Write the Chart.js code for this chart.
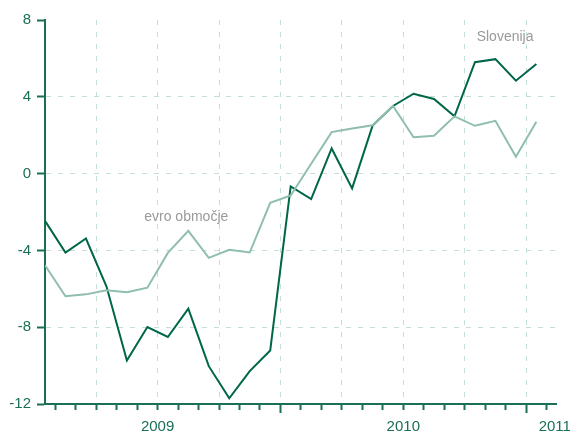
<!DOCTYPE html>
<html><head><meta charset="utf-8">
<script src="https://cdn.jsdelivr.net/npm/chart.js@4/dist/chart.umd.min.js"></script>
<style>html,body{margin:0;padding:0;background:#fff}#wrap{width:576px;height:436px;position:relative}</style>
</head><body><div id="wrap"><canvas id="c" width="576" height="436"></canvas></div>
<script>
// ---- data ----
const months = ['2009-01','2009-02','2009-03','2009-04','2009-05','2009-06','2009-07','2009-08','2009-09','2009-10','2009-11','2009-12',
                '2010-01','2010-02','2010-03','2010-04','2010-05','2010-06','2010-07','2010-08','2010-09','2010-10','2010-11','2010-12','2011-01'];
const slovenija = [-2.46,-4.11,-3.38,-5.87,-9.73,-7.99,-8.51,-7.03,-10.03,-11.70,-10.29,-9.21,
                   -0.67,-1.33,1.31,-0.77,2.50,3.52,4.16,3.89,2.98,5.80,5.96,4.84,5.71];
const evroObmocje = [-4.77,-6.39,-6.29,-6.08,-6.18,-5.94,-4.13,-2.98,-4.39,-3.97,-4.11,-1.52,
                     -1.14,0.51,2.16,2.35,2.52,3.52,1.89,1.97,2.98,2.49,2.75,0.88,2.70];
const yTicks = [-12,-8,-4,0,4,8];
const years = ['2009','2010','2011'];
const seriesNames = ['Slovenija','evro območje'];

// ---- styling ----
const GREEN = '#1b6f57';
const DARK = '#00664a';
const LIGHT = '#8fbfac';
const GRID = '#c6dfd5';
const NOTE = '#9a9a9a';
Chart.defaults.font.family = '"Liberation Sans", Arial, sans-serif';

// month boundaries between consecutive points (index - 0.5)
const boundaries = months.map((m, i) => i + 0.5);
const yearCentre = {5.5: years[0], 17.5: years[1]};
const lastYearPos = 24.9;

const notes = {
  id: 'notes',
  afterDatasetsDraw(chart, args, opts) {
    const {ctx, scales: {x, y}} = chart;
    ctx.save();
    ctx.font = '14px "Liberation Sans", Arial, sans-serif';
    ctx.fillStyle = NOTE;
    ctx.textAlign = 'center';
    ctx.textBaseline = 'middle';
    opts.items.forEach(it => ctx.fillText(it.text, x.getPixelForValue(it.x), y.getPixelForValue(it.y)));
    ctx.restore();
  }
};

new Chart(document.getElementById('c'), {
  type: 'line',
  data: {
    datasets: [
      {label: seriesNames[1], data: evroObmocje.map((v, i) => ({x: i, y: v})), borderColor: LIGHT, borderWidth: 2, pointRadius: 0, tension: 0},
      {label: seriesNames[0], data: slovenija.map((v, i) => ({x: i, y: v})), borderColor: DARK, borderWidth: 2, pointRadius: 0, tension: 0}
    ]
  },
  options: {
    responsive: false,
    animation: false,
    devicePixelRatio: 1,
    layout: {padding: {top: 20, right: 18, left: 0, bottom: 0}},
    plugins: {
      legend: {display: false},
      tooltip: {enabled: false},
      notes: {items: [{text: seriesNames[1], x: 6.9, y: -2.25}, {text: seriesNames[0], x: 22.47, y: 7.12}]}
    },
    scales: {
      x: {
        type: 'linear', min: 0, max: months.length,
        afterBuildTicks(scale) {
          scale.ticks = boundaries.map(v => ({value: v})).concat([{value: lastYearPos}]);
        },
        afterFit(scale) { scale.height = 32; },
        ticks: {
          autoSkip: false, maxRotation: 0, padding: 5,
          color: GREEN, font: {size: 15},
          callback(v) { return v === lastYearPos ? years[2] : (yearCentre[v] || ''); }
        },
        grid: {
          lineWidth: 1,
          color: ctx => (ctx.tick && ctx.tick.value !== lastYearPos && ((ctx.tick.value + 0.5) % 3 === 0)) ? GRID : 'rgba(0,0,0,0)',
          tickColor: ctx => (ctx.tick && ctx.tick.value === lastYearPos) ? 'rgba(0,0,0,0)' : GREEN,
          tickLength: 9,
          tickWidth: 2,
          tickBorderDash: ctx => (ctx.tick && (ctx.tick.value === 11.5 || ctx.tick.value === 23.5)) ? [] : [5, 30]
        },
        border: {color: GREEN, width: 2, dash: [5, 7]}
      },
      y: {
        type: 'linear', min: -12, max: 8,
        afterBuildTicks(scale) { scale.ticks = yTicks.map(v => ({value: v})); },
        afterFit(scale) { scale.width = 45; },
        ticks: {color: GREEN, font: {size: 15}, padding: 6, autoSkip: false},
        grid: {
          lineWidth: 1,
          color: ctx => (ctx.tick && ctx.tick.value > -12 && ctx.tick.value < 8) ? GRID : 'rgba(0,0,0,0)',
          tickColor: GREEN, tickLength: 8, tickWidth: 2
        },
        border: {color: GREEN, width: 2, dash: [5, 7]}
      }
    }
  },
  plugins: [notes]
});
</script></body></html>
